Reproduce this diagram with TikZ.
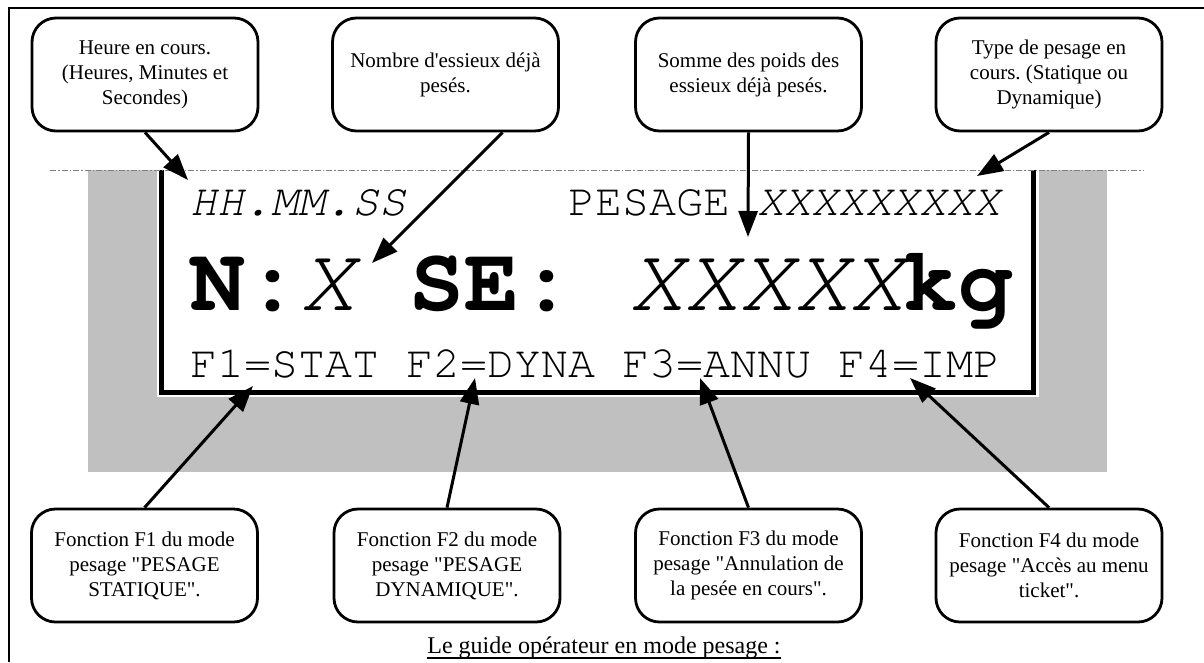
\documentclass[tikz,border=0pt]{standalone}
\usepackage{fontspec}
\newfontfamily\cfont{Liberation Serif}
\newfontfamily\mono{texgyrecursor}[Extension=.otf, UprightFont=*-regular, BoldFont=*-bold, ItalicFont=*-italic, BoldItalicFont=*-bolditalic]
\usetikzlibrary{arrows.meta}
\definecolor{panelgray}{HTML}{C0C0C0}
\definecolor{dashgray}{HTML}{808080}
\frenchspacing
\begin{document}
\begin{tikzpicture}[x=1pt,y=-1pt,
  callout/.style={draw, line width=2.8pt, rounded corners=24pt, minimum width=226pt,
    minimum height=113pt, align=center, font=\cfont\fontsize{21}{25}\selectfont, inner sep=0pt, fill=white},
  arr/.style={line width=3pt, -{Triangle[length=26pt,width=19pt]}},
  lcd/.style={inner sep=0pt, anchor=base west, font=\mono\fontsize{45}{45}\selectfont},
  lcdbig/.style={inner sep=0pt, anchor=base west, font=\mono\fontsize{91.5}{91.5}\selectfont},
  frameline/.style={line width=2pt},
  dashdotline/.style={draw=dashgray, line width=0.9pt, dash pattern=on 6pt off 2pt on 1.5pt off 2pt}
]
\useasboundingbox (0,0) rectangle (1204,662);
\fill[white] (0,0) rectangle (1204,662);
% page frame
\draw[frameline] (9,662) -- (9,8) -- (1204,8);
% display
\fill[panelgray] (88,170) rectangle (1107,472);
\fill[white] (157,170) rectangle (1039,397);
\draw[line width=5pt] (161.5,170) -- (161.5,392) -- (1033.5,392) -- (1033.5,170);
\draw[dashdotline] (50,170) -- (1143,170);
% display text
\node[lcd] (hms) at (190,215) {\itshape HH.MM.SS};
\node[lcd] (pes) at (568,215) {PESAGE};
\node[lcd] (typ) at (757,215) {\itshape XXXXXXXXX};
\node[lcdbig] (mid) at (190,310) {{\bfseries N:}{\itshape X} {\bfseries SE:} {\itshape XXXXX}{\bfseries kg}};
\node[lcd] (fk) at (190,377) {F1=STAT F2=DYNA F3=ANNU F4=IMP};
% top callouts
\node[callout] (b1) at (145,74.5) {Heure en cours.\\(Heures, Minutes et\\Secondes)};
\node[callout] (b2) at (445.5,74.5) {Nombre d'essieux déjà\\pesés.};
\node[callout] (b3) at (748.5,74.5) {Somme des poids des\\essieux déjà pesés.};
\node[callout] (b4) at (1049,74.5) {Type de pesage en\\cours. (Statique ou\\Dynamique)};
% bottom callouts
\node[callout] (f1) at (144.5,565.5) {Fonction F1 du mode\\pesage "PESAGE\\STATIQUE".};
\node[callout] (f2) at (447,565.5) {Fonction F2 du mode\\pesage "PESAGE\\DYNAMIQUE".};
\node[callout] (f3) at (748.5,565.5) {Fonction F3 du mode\\pesage "Annulation de\\la pesée en cours".};
\node[callout] (f4) at (1049,565.5) {Fonction F4 du mode\\pesage "Accès au menu\\ticket".};
% arrow targets
\coordinate (t1) at (188,180);
\coordinate (t2) at (372,263);
\coordinate (t3) at (748,237);
\coordinate (t4) at (977,176);
\coordinate (u1) at (253,386);
\coordinate (u2) at (475,378);
\coordinate (u3) at (700,378);
\coordinate (u4) at (910,378);
\draw[arr] (b1.south) -- (t1);
\draw[arr] ([xshift=57pt]b2.south) -- (t2);
\draw[arr] (b3.south) -- (t3);
\draw[arr] (b4.south) -- (t4);
\draw[arr] (f1.north) -- (u1);
\draw[arr] (f2.north) -- (u2);
\draw[arr] (f3.north) -- (u3);
\draw[arr] (f4.north) -- (u4);
% caption
\node[inner sep=0pt, anchor=base, font=\cfont\fontsize{24}{28}\selectfont] (cap) at (604,653) {Le guide opérateur en mode pesage :};
\draw[line width=1.3pt] ([yshift=-5pt]cap.base west) -- ([yshift=-5pt]cap.base east);
\end{tikzpicture}
\end{document}
